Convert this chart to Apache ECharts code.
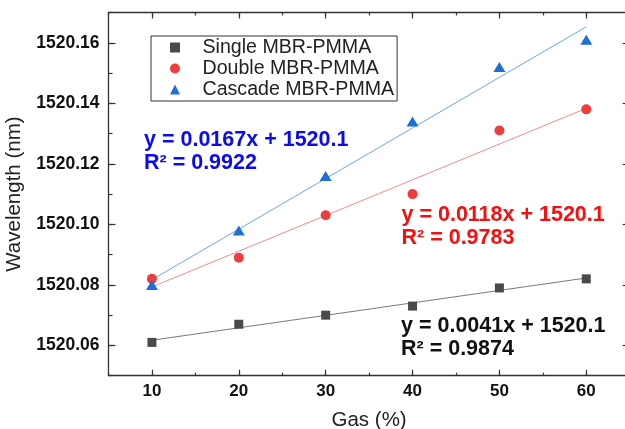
<!DOCTYPE html>
<html>
<head>
<meta charset="utf-8">
<script src="https://cdn.jsdelivr.net/npm/echarts@6/dist/echarts.min.js"></script>
<style>
  html, body { margin: 0; padding: 0; background: #fff; }
  #chart { width: 625px; height: 429px; }
</style>
</head>
<body>
<div id="chart"></div>
<script>
// Gas concentration (%) on the x axis
const gas = [10, 20, 30, 40, 50, 60];

// Measured resonance wavelength (nm) for each sensor design
const single  = [1520.061, 1520.067, 1520.070, 1520.073, 1520.079, 1520.082];
const double  = [1520.082, 1520.089, 1520.103, 1520.110, 1520.131, 1520.138];
const cascade = [1520.080, 1520.098, 1520.116, 1520.134, 1520.152, 1520.161];

const seriesNames = ['Single MBR-PMMA', 'Double MBR-PMMA', 'Cascade MBR-PMMA'];

// Fit equations written on the plot
const eqSingle  = ['y = 0.0041x + 1520.1', 'R\u00b2 = 0.9874'];
const eqDouble  = ['y = 0.0118x + 1520.1', 'R\u00b2 = 0.9783'];
const eqCascade = ['y = 0.0167x + 1520.1', 'R\u00b2 = 0.9922'];

// Labelled tick values
const xTicks = [10, 20, 30, 40, 50, 60];
const yTicks = [1520.06, 1520.08, 1520.10, 1520.12, 1520.14, 1520.16];

const FONT = 'Arial, "Liberation Sans", sans-serif';
const AXIS_COLOR = '#333';

// Least-squares straight line through the points, drawn across the measured range
function fitLine(xs, ys) {
  const n = xs.length;
  const mx = xs.reduce((a, b) => a + b, 0) / n;
  const my = ys.reduce((a, b) => a + b, 0) / n;
  let sxy = 0, sxx = 0;
  for (let i = 0; i < n; i++) {
    sxy += (xs[i] - mx) * (ys[i] - my);
    sxx += (xs[i] - mx) * (xs[i] - mx);
  }
  const k = sxy / sxx;
  const b = my - k * mx;
  const x0 = xs[0], x1 = xs[n - 1];
  return [[x0, k * x0 + b], [x1, k * x1 + b]];
}

const pairs = ys => gas.map((x, i) => [x, ys[i]]);

function xAxisDef(position, ticks, len, showLine, withLabels) {
  return {
    type: 'value', position: position, min: 5, max: 65, interval: 5,
    gridIndex: 0,
    axisLine: { show: showLine, onZero: false, lineStyle: { color: AXIS_COLOR, width: 1.3 } },
    axisTick: Object.assign({ show: true, inside: true, length: len,
      lineStyle: { color: AXIS_COLOR, width: 1.2 } }, ticks ? { customValues: ticks } : {}),
    axisLabel: withLabels ? {
      show: true, customValues: xTicks, margin: 7, color: '#111',
      fontSize: 17, fontWeight: 'bold', fontFamily: FONT
    } : { show: false },
    splitLine: { show: false }
  };
}

function yAxisDef(position, ticks, len, showLine, withLabels) {
  return {
    type: 'value', position: position, min: 1520.05, max: 1520.17, interval: 0.01,
    gridIndex: 0,
    axisLine: { show: showLine, onZero: false, lineStyle: { color: AXIS_COLOR, width: 1.3 } },
    axisTick: Object.assign({ show: true, inside: true, length: len,
      lineStyle: { color: AXIS_COLOR, width: 1.2 } }, ticks ? { customValues: ticks } : {}),
    axisLabel: withLabels ? {
      show: true, customValues: yTicks, margin: 9, color: '#111',
      fontSize: 17.5, fontWeight: 'bold', fontFamily: FONT,
      formatter: v => Number(v).toFixed(2)
    } : { show: false },
    splitLine: { show: false }
  };
}

const xMain = xAxisDef('bottom', xTicks, 6, true, true);
xMain.name = 'Gas (%)';
xMain.nameLocation = 'middle';
xMain.nameGap = 34;
xMain.nameTextStyle = { fontSize: 20.5, fontFamily: FONT, color: '#222' };

const yMain = yAxisDef('left', yTicks, 7, true, true);
yMain.name = 'Wavelength (nm)';
yMain.nameLocation = 'middle';
yMain.nameGap = 81;
yMain.nameRotate = 90;
yMain.nameTextStyle = { fontSize: 20.5, fontFamily: FONT, color: '#222' };

const markerColors = ['#4a4a4a', '#ee3d3d', '#1f6fd8'];
const lineColors = ['#7a7a7a', '#f28c8c', '#6ea6ec'];
const symbols = ['rect', 'circle', 'triangle'];
const symbolSizes = [9, 10, [12, 10]];
const datasets = [single, double, cascade];

const series = [];
datasets.forEach((ys, i) => {
  series.push({
    type: 'line', name: seriesNames[i] + ' fit', xAxisIndex: 0, yAxisIndex: 0,
    data: fitLine(gas, ys), showSymbol: false, silent: true, z: 1,
    lineStyle: { color: lineColors[i], width: 1 }
  });
});
datasets.forEach((ys, i) => {
  series.push({
    type: 'scatter', name: seriesNames[i], xAxisIndex: 0, yAxisIndex: 0,
    data: pairs(ys), symbol: symbols[i], symbolSize: symbolSizes[i], z: 3,
    itemStyle: { color: markerColors[i], opacity: 1 }
  });
});

function eqText(lines, color, left, top) {
  return {
    type: 'text', left: left, top: top, z: 10,
    style: {
      text: lines.join('\n'), fill: color, fontSize: 21.5, fontWeight: 'bold',
      fontFamily: FONT, lineHeight: 23
    }
  };
}

const chart = echarts.init(document.getElementById('chart'), null, { renderer: 'canvas' });
chart.setOption({
  animation: false,
  backgroundColor: '#fff',
  grid: { left: 108.5, top: 12.5, right: -4.7, bottom: 53.3,
    containLabel: false, outerBoundsMode: 'none' },
  xAxis: [
    xMain,
    xAxisDef('bottom', null, 3, false, false),
    xAxisDef('top', xTicks, 6, true, false),
    xAxisDef('top', null, 3, false, false)
  ],
  yAxis: [
    yMain,
    yAxisDef('left', null, 4, false, false),
    yAxisDef('right', yTicks, 7, true, false),
    yAxisDef('right', null, 4, false, false)
  ],
  legend: {
    orient: 'vertical', left: 151, top: 36,
    data: seriesNames,
    itemWidth: 10, itemHeight: 10, itemGap: 0,
    padding: [1, 3, 1, 19],
    borderColor: '#333', borderWidth: 1, borderRadius: 0,
    backgroundColor: '#fff',
    textStyle: { fontSize: 19.6, fontFamily: FONT, color: '#222', lineHeight: 21,
      padding: [0, 0, 0, 17.5] },
    selectedMode: false
  },
  series: series,
  graphic: [
    eqText(eqCascade, '#0b0bf0', 144, 128.5),
    eqText(eqDouble, '#f41010', 401.5, 203.5),
    eqText(eqSingle, '#111', 401, 314.5)
  ]
});
</script>
</body>
</html>
